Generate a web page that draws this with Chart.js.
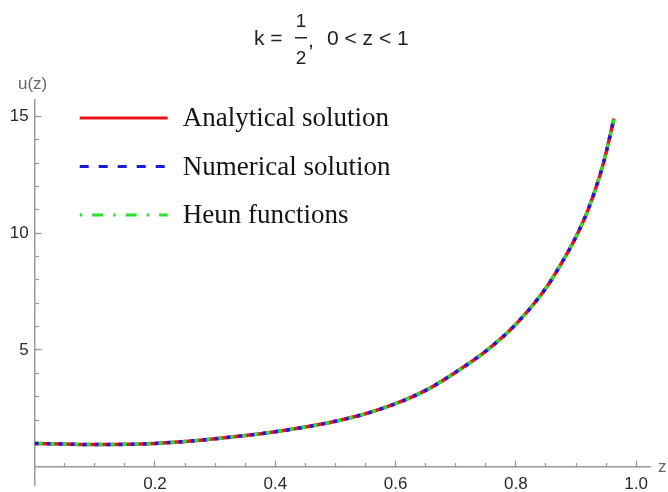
<!DOCTYPE html>
<html>
<head>
<meta charset="utf-8">
<script src="https://cdn.jsdelivr.net/npm/chart.js@4.4.1/dist/chart.umd.min.js"></script>
<style>
  html, body { margin: 0; padding: 0; background: #fff; }
  #solutionChart { display: block; }
</style>
</head>
<body>
<canvas id="solutionChart" width="668" height="492"></canvas>
<script>
// values, k = 1/2, 0 < z < 1
const zValues    = [0, 0.05, 0.10, 0.15, 0.20, 0.25, 0.30, 0.35, 0.40, 0.45, 0.50, 0.55, 0.60, 0.65, 0.70, 0.75, 0.80, 0.85, 0.88, 0.90, 0.92, 0.94, 0.95, 0.963];
const analytical = [1.00, 0.97, 0.95, 0.96, 1.00, 1.08, 1.20, 1.34, 1.50, 1.70, 1.95, 2.27, 2.70, 3.27, 4.05, 4.95, 6.10, 7.65, 8.90, 9.85, 11.00, 12.50, 13.45, 14.90];
const numerical  = [1.00, 0.97, 0.95, 0.96, 1.00, 1.08, 1.20, 1.34, 1.50, 1.70, 1.95, 2.27, 2.70, 3.27, 4.05, 4.95, 6.10, 7.65, 8.90, 9.85, 11.00, 12.50, 13.45, 14.90];
const heun       = [1.00, 0.97, 0.95, 0.96, 1.00, 1.08, 1.20, 1.34, 1.50, 1.70, 1.95, 2.27, 2.70, 3.27, 4.05, 4.95, 6.10, 7.65, 8.90, 9.85, 11.00, 12.50, 13.45, 14.90];
const seriesNames = ["Analytical solution", "Numerical solution", "Heun functions"];
const xTickLabels = ["0.2", "0.4", "0.6", "0.8", "1.0"];
const yTickLabels = ["5", "10", "15"];

const toPoints = (ys) => zValues.map((z, i) => ({ x: z, y: ys[i] }));

const axisGray = "#9a9a9a";
const tickFont = { family: "'Liberation Sans', Arial, sans-serif", size: 17 };
const hideZero = (c) => (c.tick && c.tick.value === 0 ? "rgba(0,0,0,0)" : axisGray);

// title with stacked fraction, axis names and the legend inside the plot
const annotations = {
    id: "annotations",
    afterDraw(chart) {
        const ctx = chart.ctx;
        ctx.save();
        ctx.fillStyle = "#222";
        ctx.textBaseline = "alphabetic";
        ctx.font = "21px 'Liberation Sans', Arial, sans-serif";
        ctx.textAlign = "left";
        ctx.fillText("k =", 254, 45);
        ctx.fillText(",", 308, 47);
        ctx.fillText("0 < z < 1", 327, 45);
        ctx.font = "19px 'Liberation Sans', Arial, sans-serif";
        ctx.textAlign = "center";
        ctx.fillText("1", 301, 27);
        ctx.fillText("2", 301, 64);
        ctx.fillRect(295, 37, 12, 1.5);

        ctx.fillStyle = "#666";
        ctx.font = "17px 'Liberation Sans', Arial, sans-serif";
        ctx.textAlign = "left";
        ctx.fillText("u(z)", 18, 89);
        ctx.fillText("z", 658, 472);

        const area = chart.chartArea;
        chart.data.datasets.forEach((ds, i) => {
            const y = 118 + i * 48.5;
            ctx.strokeStyle = ds.borderColor;
            ctx.lineWidth = 3;
            ctx.setLineDash(ds.legendDash);
            ctx.beginPath();
            ctx.moveTo(area.left + 45, y);
            ctx.lineTo(area.left + 133, y);
            ctx.stroke();
            ctx.setLineDash([]);
            ctx.fillStyle = "#141414";
            ctx.font = "27px 'Liberation Serif', 'Times New Roman', serif";
            ctx.textBaseline = "middle";
            ctx.fillText(ds.label, area.left + 148, y + 1);
        });
        ctx.restore();
    }
};

const lineBase = {
    borderWidth: 3.5,
    pointRadius: 0,
    cubicInterpolationMode: "monotone",
    borderCapStyle: "butt"
};

new Chart(document.getElementById("solutionChart"), {
    type: "line",
    data: {
        datasets: [
            Object.assign({}, lineBase, {
                label: seriesNames[0],
                data: toPoints(analytical),
                borderColor: "#e8141c",
                legendDash: [],
                order: 3
            }),
            Object.assign({}, lineBase, {
                label: seriesNames[1],
                data: toPoints(numerical),
                borderColor: "#1a1adc",
                borderDash: [4, 8],
                legendDash: [9, 10],
                order: 2
            }),
            Object.assign({}, lineBase, {
                label: seriesNames[2],
                data: toPoints(heun),
                borderColor: "#2ee02e",
                borderDash: [4, 8],
                borderDashOffset: 8,
                legendDash: [2.5, 10, 11, 10],
                order: 1
            })
        ]
    },
    options: {
        responsive: false,
        animation: false,
        events: [],
        layout: {
            padding: { left: 0, right: 18, top: 100, bottom: 7 }
        },
        plugins: {
            legend: { display: false },
            tooltip: { enabled: false },
            title: { display: false }
        },
        scales: {
            x: {
                type: "linear",
                min: 0,
                max: 1.023,
                position: { y: 0 },
                border: { color: axisGray, width: 1.5 },
                grid: {
                    drawOnChartArea: false,
                    tickLength: -7,
                    tickColor: hideZero,
                    tickWidth: 1.2
                },
                ticks: {
                    stepSize: 0.2,
                    includeBounds: false,
                    autoSkip: false,
                    maxRotation: 0,
                    padding: 14,
                    color: "#2a2a2a",
                    font: tickFont,
                    callback: (v) => {
                        const s = Number(v).toFixed(1);
                        return xTickLabels.includes(s) ? s : "";
                    }
                },
                afterFit: (s) => { s.paddingLeft = 0; s.paddingRight = 0; }
            },
            xMinor: {
                type: "linear",
                min: 0,
                max: 1.023,
                position: { y: 0 },
                border: { display: false },
                grid: {
                    drawOnChartArea: false,
                    tickLength: -4,
                    tickColor: hideZero,
                    tickWidth: 1.2
                },
                ticks: { stepSize: 0.05, includeBounds: false, autoSkip: false, display: false },
                afterFit: (s) => { s.paddingLeft = 0; s.paddingRight = 0; }
            },
            y: {
                type: "linear",
                position: "left",
                min: -0.78,
                max: 15.7,
                border: { color: axisGray, width: 1.5 },
                grid: {
                    drawOnChartArea: false,
                    tickLength: -7,
                    tickColor: hideZero,
                    tickWidth: 1.2
                },
                ticks: {
                    stepSize: 5,
                    includeBounds: false,
                    autoSkip: false,
                    padding: 13,
                    color: "#2a2a2a",
                    font: tickFont,
                    callback: (v) => (yTickLabels.includes(String(v)) ? String(v) : "")
                },
                afterFit: (s) => { s.width = 34.7; s.paddingTop = 0; s.paddingBottom = 0; }
            },
            yMinor: {
                type: "linear",
                min: -0.78,
                max: 15.7,
                position: { x: 0 },
                border: { display: false },
                grid: {
                    drawOnChartArea: false,
                    tickLength: -4,
                    tickColor: hideZero,
                    tickWidth: 1.2
                },
                ticks: { stepSize: 1, includeBounds: false, autoSkip: false, display: false },
                afterFit: (s) => { s.paddingTop = 0; s.paddingBottom = 0; }
            }
        }
    },
    plugins: [annotations]
});
</script>
</body>
</html>
